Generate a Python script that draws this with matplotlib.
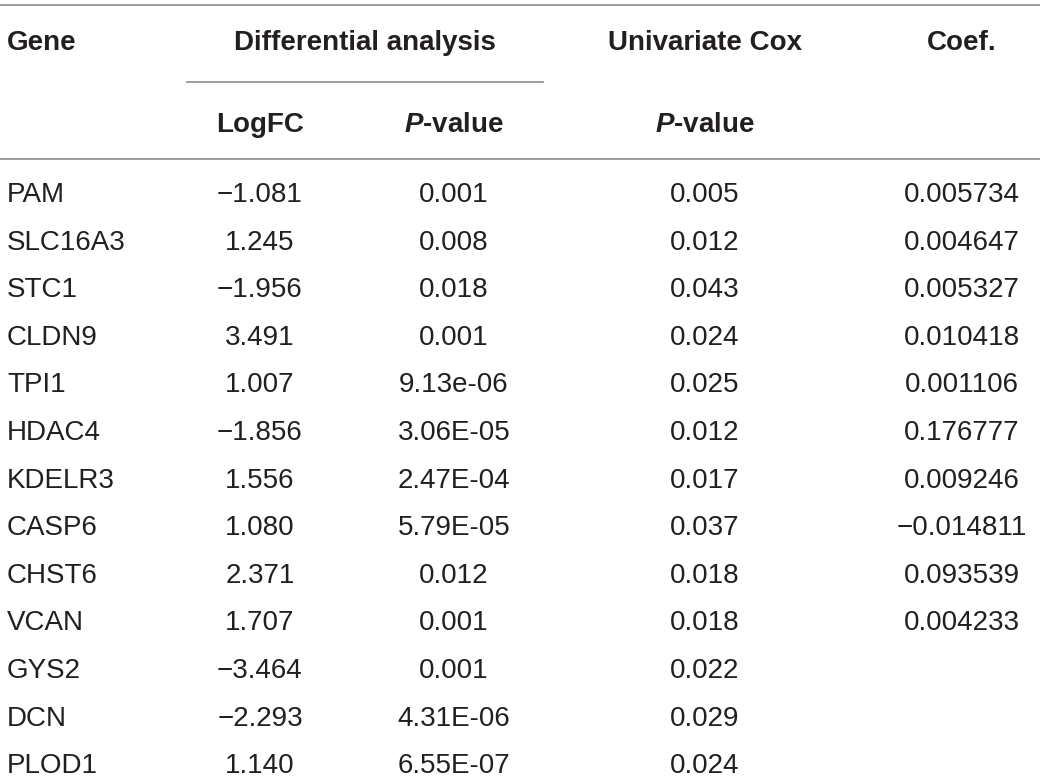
import matplotlib
matplotlib.use('Agg')
import matplotlib.pyplot as plt

# table contents
genes = ['PAM', 'SLC16A3', 'STC1', 'CLDN9', 'TPI1', 'HDAC4', 'KDELR3',
         'CASP6', 'CHST6', 'VCAN', 'GYS2', 'DCN', 'PLOD1']
logfc = ['\u22121.081', '1.245', '\u22121.956', '3.491', '1.007', '\u22121.856',
         '1.556', '1.080', '2.371', '1.707', '\u22123.464', '\u22122.293', '1.140']
diff_p = ['0.001', '0.008', '0.018', '0.001', '9.13e-06', '3.06E-05', '2.47E-04',
          '5.79E-05', '0.012', '0.001', '0.001', '4.31E-06', '6.55E-07']
cox_p = ['0.005', '0.012', '0.043', '0.024', '0.025', '0.012', '0.017',
         '0.037', '0.018', '0.018', '0.022', '0.029', '0.024']
coef = ['0.005734', '0.004647', '0.005327', '0.010418', '0.001106', '0.176777',
        '0.009246', '\u22120.014811', '0.093539', '0.004233', '', '', '']

header_top = ['Gene', 'Differential analysis', 'Univariate Cox', 'Coef.']
header_sub = ['LogFC', r'$\mathit{P}$-value', r'$\mathit{P}$-value']

plt.rcParams['font.family'] = 'Liberation Sans'
plt.rcParams['mathtext.fontset'] = 'custom'
plt.rcParams['mathtext.it'] = 'Liberation Sans:italic:bold'
plt.rcParams['mathtext.rm'] = 'Liberation Sans:bold'

ink = '#231f20'
rule = '#8c8c8c'
fs = 20

fig = plt.figure(figsize=(10.4, 7.78), dpi=100)
ax = fig.add_axes([0, 0, 1, 1])
ax.set_xlim(0, 1040)
ax.set_ylim(778, 0)
ax.axis('off')

col_x = [7, 260, 454, 705, 962]

# header
ax.text(col_x[0], 43, header_top[0], ha='left', va='center', fontsize=fs,
        fontweight='bold', color=ink)
ax.text(365, 43, header_top[1], ha='center', va='center', fontsize=fs,
        fontweight='bold', color=ink)
ax.text(col_x[3], 43, header_top[2], ha='center', va='center', fontsize=fs,
        fontweight='bold', color=ink)
ax.text(col_x[4], 43, header_top[3], ha='center', va='center', fontsize=fs,
        fontweight='bold', color=ink)
for x, s in zip(col_x[1:4], header_sub):
    ax.text(x, 125, s, ha='center', va='center', fontsize=fs,
            fontweight='bold', color=ink)

# rules
ax.plot([0, 1040], [5, 5], color=rule, lw=1.2)
ax.plot([187, 543], [82, 82], color=rule, lw=1.2)
ax.plot([0, 1040], [159, 159], color=rule, lw=1.2)

# body
for i in range(len(genes)):
    y = 195 + i * 47.6
    ax.text(col_x[0], y, genes[i], ha='left', va='center', fontsize=fs, color=ink)
    ax.text(col_x[1], y, logfc[i], ha='center', va='center', fontsize=fs, color=ink)
    ax.text(col_x[2], y, diff_p[i], ha='center', va='center', fontsize=fs, color=ink)
    ax.text(col_x[3], y, cox_p[i], ha='center', va='center', fontsize=fs, color=ink)
    ax.text(col_x[4], y, coef[i], ha='center', va='center', fontsize=fs, color=ink)

fig.savefig('out.png', dpi=100)
